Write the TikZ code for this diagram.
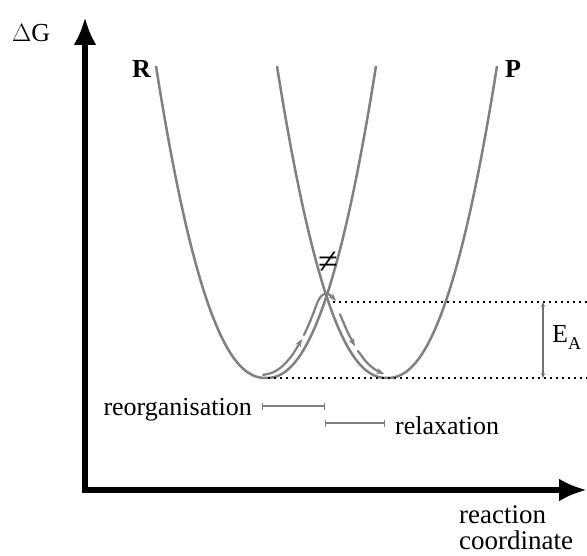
\documentclass[tikz,border=0pt]{standalone}
\usepackage{fontspec}
\setmainfont{Liberation Serif}
\usetikzlibrary{arrows.meta,positioning}

\begin{document}
\begin{tikzpicture}[x=1pt,y=-1pt,
  axis/.style={line width=5.5pt,{Latex[length=28pt,width=23pt]}-{Latex[length=28pt,width=23pt]}},
  curve/.style={draw=black!50,line width=2.5pt},
  flow/.style={draw=black!50,line width=2.2pt,line cap=round,-{Stealth[length=8pt,width=6pt]}},
  guide/.style={line width=1.8pt,dash pattern=on 1.8pt off 4.2pt},
  span/.style={draw=black!50,line width=1.3pt,{Bar[width=7pt]}-{Bar[width=7pt]}},
  ea/.style={draw=black!55,line width=1.2pt,{Stealth[length=5pt,width=4pt]}-{Stealth[length=5pt,width=4pt]}},
  lbl/.style={inner sep=0pt,font=\fontsize{26}{30}\selectfont}]
\useasboundingbox (0,0) rectangle (587,556);

% axes
\coordinate (org) at (85,490);
\coordinate (yt) at (85,17);
\coordinate (xt) at (587,490);
\draw[axis] (yt) -- (org) -- (xt);
\node[lbl,anchor=base west] (dg) at (12,42) {$\Delta$G};
\node[lbl,anchor=south west,align=left,font=\fontsize{27}{26}\selectfont] (rc) at (459,550) {reaction\\coordinate};

% free energy wells
\draw[curve] plot[domain=-110:110,samples=80,variable=\t] ({266+\t},{378-312*(abs(\t)/110)^2.24});
\draw[curve] plot[domain=-110:110,samples=80,variable=\t] ({387+\t},{378-312*(abs(\t)/110)^2.24});
\node[lbl,anchor=base west,font=\bfseries\fontsize{26}{30}\selectfont] (rlab) at (132,78) {R};
\node[lbl,anchor=base west,font=\bfseries\fontsize{26}{30}\selectfont] (plab) at (505,78) {P};
\coordinate (ts) at (326.5,296);
\node[lbl,font=\fontsize{36}{40}\selectfont] (neq) at (328,263) {≠};

% path over the barrier
\draw[flow] plot[smooth,domain=263:302,samples=5,variable=\t] ({\t},{375-312*((\t-260)/110)^2.24});
\draw[flow] plot[smooth,domain=304:316,samples=3,variable=\t] ({\t},{375-312*((\t-260)/110)^2.24})
  .. controls (320,294) and (326,290) .. (336,301);
\draw[flow] plot[smooth,domain=340:355,samples=3,variable=\t] ({\t},{375-312*((393-\t)/110)^2.24});
\draw[flow] plot[smooth,domain=358:384,samples=4,variable=\t] ({\t},{375-312*((393-\t)/110)^2.24});

% activation energy
\coordinate (eatop) at (333,302);
\coordinate (eabot) at (268,378);
\draw[guide] (eatop) -- (eatop -| xt);
\draw[guide] (eabot) -- (eabot -| xt);
\coordinate (ea1) at (543,302);
\coordinate (ea2) at (543,378);
\draw[ea] (ea1) -- (ea2);
\node[lbl,anchor=base west] (ealab) at (552,343) {E\raisebox{-7pt}{\fontsize{18}{18}\selectfont A}};

% reorganisation / relaxation
\coordinate (ro1) at (262,406);
\coordinate (ro2) at (325,406);
\coordinate (rl1) at (325,423);
\coordinate (rl2) at (385,423);
\draw[span] (ro1) -- (ro2);
\draw[span] (rl1) -- (rl2);
\node[lbl,anchor=base east] (reorg) at (252,415) {reorganisation};
\node[lbl,anchor=base west] (relax) at (395,435) {relaxation};
\end{tikzpicture}
\end{document}
